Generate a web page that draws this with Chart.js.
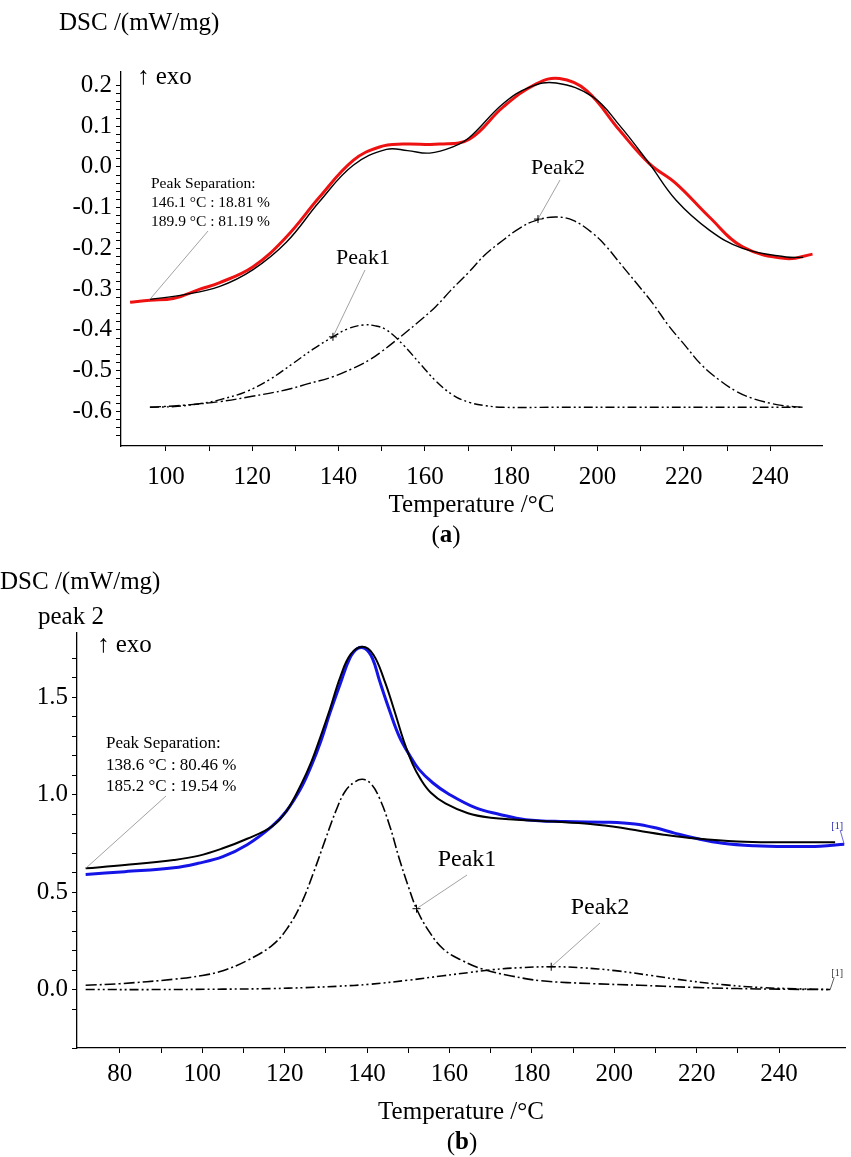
<!DOCTYPE html>
<html><head><meta charset="utf-8">
<script src="https://cdn.jsdelivr.net/npm/chart.js@4.4.1/dist/chart.umd.min.js"></script>
<style>
html,body{margin:0;padding:0;background:#fff;}
#wrap{position:relative;width:851px;height:1157px;overflow:hidden;background:#fff;}
canvas{position:absolute;left:0;}
#ca{top:0;} #cb{top:560px;}
</style></head><body>
<div id="wrap"><canvas id="ca" width="851" height="560"></canvas><canvas id="cb" width="851" height="597"></canvas></div>
<script>
// ---------- (a) data ----------
const aMeasT = [91.7, 96.3, 101.7, 107.9, 112.5, 120.2, 127.9, 135.6, 143.4, 149.5, 154.9, 163.4, 170.3, 178.1, 185.8, 191.2, 197.4, 205.1, 212.0, 218.2, 225.9, 233.6, 243.7, 249.8];
const aMeasV = [-0.332, -0.327, -0.323, -0.300, -0.284, -0.245, -0.172, -0.074, 0.016, 0.049, 0.056, 0.056, 0.068, 0.147, 0.204, 0.217, 0.188, 0.090, 0.008, -0.041, -0.123, -0.196, -0.225, -0.214];
const aFitT = [96.3, 104.0, 112.5, 120.2, 127.9, 135.6, 143.4, 151.1, 156.0, 161.1, 166.5, 170.3, 178.1, 184.3, 190.4, 198.9, 205.1, 212.0, 218.2, 225.9, 233.6, 243.7, 247.6];
const aFitV = [-0.325, -0.314, -0.293, -0.252, -0.185, -0.085, 0.004, 0.043, 0.040, 0.034, 0.049, 0.072, 0.155, 0.196, 0.206, 0.172, 0.102, 0.008, -0.082, -0.155, -0.200, -0.221, -0.222];
const aPeak1T = [96.3, 102, 108.6, 113, 118.7, 124, 129.5, 134, 138.7, 142, 145.7, 148.5, 151.1, 155, 158.8, 162.5, 166.5, 170.3, 174, 178.1, 190, 210, 230, 247.6];
const aPeak1V = [-0.590, -0.588, -0.580, -0.570, -0.551, -0.522, -0.482, -0.448, -0.417, -0.398, -0.388, -0.390, -0.400, -0.437, -0.482, -0.525, -0.560, -0.578, -0.586, -0.590, -0.590, -0.590, -0.590, -0.590];
const aPeak2T = [96.3, 104, 112.5, 120, 127.9, 133, 138.7, 143, 147.1, 150, 153.4, 158, 162.5, 166, 170.2, 174, 178.1, 182, 185.8, 190.4, 194.5, 198.9, 202, 205.1, 209, 212.8, 216.5, 220.5, 224, 228.2, 232, 235.9, 240, 244, 247.6];
const aPeak2V = [-0.590, -0.585, -0.576, -0.563, -0.547, -0.532, -0.515, -0.496, -0.474, -0.453, -0.425, -0.385, -0.343, -0.303, -0.258, -0.215, -0.180, -0.150, -0.131, -0.123, -0.132, -0.163, -0.195, -0.235, -0.285, -0.335, -0.390, -0.441, -0.485, -0.523, -0.550, -0.568, -0.580, -0.587, -0.590];
const aSepLines = ["Peak Separation:", "146.1 °C : 18.81 %", "189.9 °C : 81.19 %"];
const aMarkers = [{name: "Peak1", t: 138.7, v: -0.417}, {name: "Peak2", t: 186.2, v: -0.128}];

// ---------- (b) data ----------
const bMeasT = [71.7, 81.2, 93.1, 99.0, 105.0, 110.9, 116.9, 120.4, 124.0, 126.5, 128.8, 131.0, 133.5, 135.8, 137.7, 139.5, 141.3, 143.0, 145.5, 147.8, 150.4, 152.6, 156.0, 159.7, 166.4, 172.0, 178.5, 188.0, 198.5, 205.0, 210.0, 214.6, 220.0, 226.3, 234.0, 241.8, 250.0, 255.8];
const bMeasV = [0.591, 0.605, 0.625, 0.648, 0.682, 0.743, 0.837, 0.915, 1.035, 1.150, 1.276, 1.420, 1.570, 1.700, 1.750, 1.750, 1.700, 1.587, 1.430, 1.300, 1.200, 1.130, 1.060, 1.005, 0.932, 0.900, 0.872, 0.862, 0.859, 0.850, 0.830, 0.803, 0.775, 0.751, 0.738, 0.734, 0.736, 0.746];
const bFitT = [71.7, 81.2, 93.1, 99.0, 105.0, 110.9, 116.9, 120.4, 124.0, 126.5, 128.8, 131.0, 133.5, 136.0, 138.9, 141.5, 144.2, 146.5, 149.0, 151.0, 153.0, 155.5, 159.0, 164.5, 170.0, 176.3, 185.0, 194.2, 200.0, 206.0, 212.0, 220.0, 229.9, 240.0, 253.6];
const bFitV = [0.622, 0.639, 0.665, 0.686, 0.725, 0.774, 0.837, 0.915, 1.053, 1.170, 1.304, 1.440, 1.604, 1.720, 1.759, 1.720, 1.587, 1.440, 1.270, 1.160, 1.080, 1.010, 0.955, 0.905, 0.882, 0.872, 0.862, 0.850, 0.835, 0.815, 0.795, 0.775, 0.760, 0.756, 0.756];
const bPeak1T = [71.7, 80, 93.1, 100, 105, 111, 116.9, 120.5, 124, 127, 130, 132.5, 134.7, 137, 138.9, 141, 143, 145.5, 147.8, 150, 152, 155, 158.5, 163, 168, 175, 182.3, 195, 206.1, 218, 229.9, 240, 252.4];
const bPeak1V = [0.022, 0.030, 0.053, 0.072, 0.097, 0.150, 0.226, 0.310, 0.440, 0.600, 0.777, 0.920, 1.018, 1.065, 1.079, 1.055, 0.983, 0.840, 0.673, 0.530, 0.415, 0.300, 0.208, 0.150, 0.105, 0.070, 0.045, 0.030, 0.022, 0.012, 0.005, 0.002, 0.0];
const bPeak2T = [71.7, 90, 105, 116.9, 125, 133, 140.6, 150, 158.5, 165, 170.4, 177, 184.7, 192, 200.2, 209, 218, 227, 235.8, 244, 252.4];
const bPeak2V = [0.0, 0.0, 0.002, 0.005, 0.010, 0.017, 0.027, 0.048, 0.071, 0.088, 0.102, 0.112, 0.117, 0.112, 0.097, 0.072, 0.045, 0.024, 0.010, 0.004, 0.0];
const bSepLines = ["Peak Separation:", "138.6 °C : 80.46 %", "185.2 °C : 19.54 %"];
const bMarkers = [{name: "Peak1", t: 152.0, v: 0.415}, {name: "Peak2", t: 184.7, v: 0.117}];

// axis ranges
const aXRange = [89.6, 252], aYRange = [-0.685, 0.233];
const bXRange = [69.6, 256], bYRange = [-0.30, 1.83];

const FONT = "'Liberation Serif', 'DejaVu Serif', serif";
const pts = (T, V) => T.map((t, i) => ({x: t, y: V[i]}));
const isMult = (v, s) => Math.abs(v / s - Math.round(v / s)) < 1e-6;

function lineDs(T, V, color, width, dash) {
  return {data: pts(T, V), borderColor: color, borderWidth: width, borderDash: dash || [],
    pointRadius: 0, fill: false, tension: 0.4, borderCapStyle: 'butt', borderJoinStyle: 'round'};
}

function scales(xr, yr, yMajor, yMinor, yW, xH, titlePad, xPad) {
  return {
    x: {type: 'linear', min: xr[0], max: xr[1],
      afterFit: s => { s.height = xH; },
      ticks: {stepSize: 10, autoSkip: false, maxRotation: 0, padding: xPad, color: '#000',
        font: {family: FONT, size: 25},
        callback: v => isMult(v, 20) ? String(Math.round(v)) : ''},
      grid: {drawOnChartArea: false, drawTicks: true, tickLength: 5, tickWidth: 1,
        tickColor: c => isMult(c.tick.value, 10) ? '#000' : 'rgba(0,0,0,0)'},
      border: {display: true, color: '#000', width: 1.3},
      title: {display: true, text: 'Temperature /°C', color: '#000', font: {family: FONT, size: 25},
        padding: {top: 0, bottom: titlePad}}
    },
    y: {type: 'linear', min: yr[0], max: yr[1],
      afterFit: s => { s.width = yW; },
      ticks: {stepSize: yMinor, autoSkip: false, padding: 4, color: '#000',
        font: {family: FONT, size: 25},
        callback: v => isMult(v, yMajor) ? (Math.round(v / yMajor) * yMajor).toFixed(1) : ''},
      grid: {drawOnChartArea: false, drawTicks: true, tickLength: 5, tickWidth: 1,
        tickColor: c => isMult(c.tick.value, yMinor) ? '#000' : 'rgba(0,0,0,0)'},
      border: {display: true, color: '#000', width: 1.3}
    }
  };
}

function drawLeader(ctx, x1, y1, x2, y2, color) {
  ctx.save(); ctx.strokeStyle = color || '#8a8a8a'; ctx.lineWidth = 0.8;
  ctx.beginPath(); ctx.moveTo(x1, y1); ctx.lineTo(x2, y2); ctx.stroke(); ctx.restore();
}
function drawCross(ctx, x, y) {
  ctx.save(); ctx.strokeStyle = '#000'; ctx.lineWidth = 1;
  ctx.beginPath(); ctx.moveTo(x - 4, y); ctx.lineTo(x + 4, y); ctx.moveTo(x, y - 4); ctx.lineTo(x, y + 4); ctx.stroke(); ctx.restore();
}
function text(ctx, s, x, y, size, align, color, weight) {
  ctx.save(); ctx.fillStyle = color || '#000'; ctx.font = (weight || 'normal') + ' ' + size + 'px ' + FONT;
  ctx.textAlign = align || 'left'; ctx.textBaseline = 'middle'; ctx.fillText(s, x, y); ctx.restore();
}
function panelLabel(ctx, letter, cx, y) {
  ctx.save(); ctx.textBaseline = 'middle'; ctx.fillStyle = '#000';
  ctx.font = '25px ' + FONT; const wp = ctx.measureText('(').width, wq = ctx.measureText(')').width;
  ctx.font = 'bold 25px ' + FONT; const wl = ctx.measureText(letter).width;
  let x = cx - (wp + wl + wq) / 2;
  ctx.font = '25px ' + FONT; ctx.fillText('(', x, y); x += wp;
  ctx.font = 'bold 25px ' + FONT; ctx.fillText(letter, x, y); x += wl;
  ctx.font = '25px ' + FONT; ctx.fillText(')', x, y); ctx.restore();
}

const annoA = {
  id: 'annoA',
  afterDraw(chart) {
    const ctx = chart.ctx, xs = chart.scales.x, ys = chart.scales.y;
    text(ctx, 'DSC /(mW/mg)', 59, 23, 25);
    text(ctx, '↑ exo', 137, 77, 25);
    aSepLines.forEach((s, i) => text(ctx, s, 151, 184 + i * 19.2, 15.5));
    drawLeader(ctx, 208, 231, xs.getPixelForValue(aFitT[0]), ys.getPixelForValue(aFitV[0]));
    const lab = [[363, 258], [558, 168]];
    aMarkers.forEach((m, i) => {
      const px = xs.getPixelForValue(m.t), py = ys.getPixelForValue(m.v);
      text(ctx, m.name, lab[i][0], lab[i][1], 22, 'center');
      drawLeader(ctx, lab[i][0] + 2, lab[i][1] + 12, px, py);
      drawCross(ctx, px, py);
    });
    panelLabel(ctx, 'a', 446, 536);
  }
};
const annoB = {
  id: 'annoB',
  afterDraw(chart) {
    const ctx = chart.ctx, xs = chart.scales.x, ys = chart.scales.y;
    text(ctx, 'DSC /(mW/mg)', 0, 22, 25);
    text(ctx, 'peak 2', 38, 57, 25);
    text(ctx, '↑ exo', 97, 85, 25);
    bSepLines.forEach((s, i) => text(ctx, s, 106, 184 + i * 21.5, 17));
    drawLeader(ctx, 166, 236, xs.getPixelForValue(bFitT[0]), ys.getPixelForValue(bFitV[0]));
    const lab = [[467, 300], [600, 348]];
    bMarkers.forEach((m, i) => {
      const px = xs.getPixelForValue(m.t), py = ys.getPixelForValue(m.v);
      text(ctx, m.name, lab[i][0], lab[i][1], 24, 'center');
      drawLeader(ctx, lab[i][0], lab[i][1] + 15, px, py);
      drawCross(ctx, px, py);
    });
    const ex = xs.getPixelForValue(bMeasT[bMeasT.length - 1]), ey = ys.getPixelForValue(bMeasV[bMeasV.length - 1]);
    drawLeader(ctx, ex - 4, ey - 14, ex, ey, '#4444cc');
    text(ctx, '[1]', ex - 7, ey - 18, 10, 'center', '#2222aa');
    const dx = xs.getPixelForValue(bPeak1T[bPeak1T.length - 1]), dy = ys.getPixelForValue(bPeak1V[bPeak1V.length - 1]);
    drawLeader(ctx, dx, dy, dx + 4, dy - 12, '#333');
    text(ctx, '[1]', dx + 7, dy - 16, 10, 'center', '#333');
    panelLabel(ctx, 'b', 462, 583);
  }
};

const common = {responsive: false, animation: false, devicePixelRatio: 1,
  plugins: {legend: {display: false}, tooltip: {enabled: false}}};

new Chart(document.getElementById('ca'), {
  type: 'line',
  data: {datasets: [
    lineDs(aFitT, aFitV, '#000', 1.4),
    lineDs(aMeasT, aMeasV, '#ee1111', 3),
    lineDs(aPeak1T, aPeak1V, '#000', 1.4, [9, 3, 2, 3, 2, 3]),
    lineDs(aPeak2T, aPeak2V, '#000', 1.4, [11, 3, 2, 3])
  ]},
  options: Object.assign({}, common, {
    layout: {padding: {top: 72, right: 29, left: 0, bottom: 0}},
    scales: scales(aXRange, aYRange, 0.1, 0.02, 121, 114, 40, 11)
  }),
  plugins: [annoA]
});

new Chart(document.getElementById('cb'), {
  type: 'line',
  data: {datasets: [
    lineDs(bFitT, bFitV, '#000', 2),
    lineDs(bMeasT, bMeasV, '#1414e6', 3),
    lineDs(bPeak1T, bPeak1V, '#000', 1.6, [11, 3, 2, 3]),
    lineDs(bPeak2T, bPeak2V, '#000', 1.6, [9, 3, 2, 3, 2, 3])
  ]},
  options: Object.assign({}, common, {
    layout: {padding: {top: 73, right: 0, left: 0, bottom: 0}},
    scales: scales(bXRange, bYRange, 0.5, 0.1, 77, 109, 30, 6)
  }),
  plugins: [annoB]
});
</script>
</body></html>
